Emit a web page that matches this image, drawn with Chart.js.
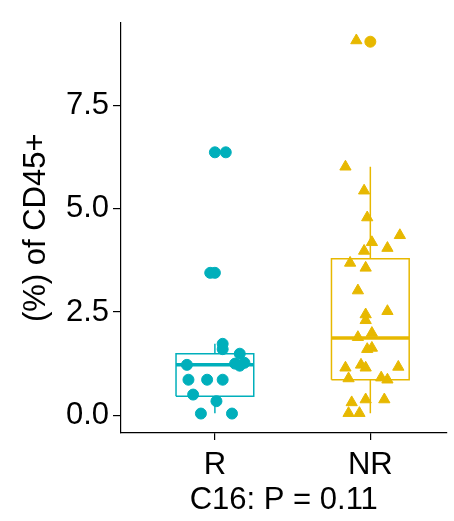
<!DOCTYPE html>
<html>
<head>
<meta charset="utf-8">
<script src="https://cdn.jsdelivr.net/npm/chart.js@4/dist/chart.umd.min.js"></script>
<style>
html,body{margin:0;padding:0;background:#fff;}
#wrap{width:454px;height:521px;}
</style>
</head>
<body>
<div id="wrap"><canvas id="c" width="454" height="521"></canvas></div>
<script>
// ---- data ----
const categories = ['R', 'NR'];
const yTicks = [0, 2.5, 5.0, 7.5];
const yAxisTitle = '(%) of CD45+';
const xAxisTitle = 'C16: P = 0.11';
// box statistics: [lower whisker, Q1, median, Q3, upper whisker]
const rBox = [0.05, 0.46, 1.22, 1.49, 1.73];
const nrBox = [0.05, 0.86, 1.87, 3.79, 6.02];
// boxplot outliers (drawn at the category centre)
const rOutliers = [6.37, 3.45];
const nrOutliers = [9.05];
// jittered observations: values and horizontal jitter (category units)
const rValues = [6.37, 3.45, 1.73, 1.60, 1.49, 1.22, 1.25, 1.27, 1.20, 0.86, 0.86, 0.86, 0.50, 0.34, 0.04, 0.04];
const rJitter = [0.07, -0.03, 0.05, 0.05, 0.16, -0.18, 0.13, 0.19, 0.16, -0.17, -0.05, 0.05, -0.14, 0.01, -0.09, 0.11];
const nrValues = [9.08, 6.02, 5.44, 4.79, 4.36, 4.19, 3.98, 4.05, 3.69, 3.57, 3.02, 2.44, 2.52, 2.30, 1.89, 1.99, 1.60, 1.63, 1.15, 1.22, 1.15, 1.17, 0.89, 0.91, 0.86, 0.31, 0.38, 0.38, 0.05, 0.05];
const nrJitter = [-0.09, -0.16, -0.04, -0.02, 0.19, 0.01, -0.04, 0.11, -0.13, -0.03, -0.08, -0.03, 0.11, -0.03, -0.08, 0.01, -0.02, 0.01, -0.16, -0.06, -0.03, 0.18, -0.14, 0.07, 0.11, -0.12, -0.03, 0.09, -0.14, -0.07];

// ---- styling ----
const colR = '#00AFBB';
const colNR = '#E7B800';
const FONT = '"Liberation Sans", Arial, sans-serif';
const FS = 31;
const halfW = 0.25;

function boxSets(pos, b, col) {
  const [lo, q1, med, q3, hi] = b;
  const line = (pts, w) => ({
    type: 'line', data: pts, borderColor: col, borderWidth: w,
    pointRadius: 0, fill: false, tension: 0, order: 5
  });
  return [
    line([{x: pos - halfW, y: q1}, {x: pos + halfW, y: q1}, {x: pos + halfW, y: q3}, {x: pos - halfW, y: q3}, {x: pos - halfW, y: q1}], 1.5),
    line([{x: pos - halfW, y: med}, {x: pos + halfW, y: med}], 3.5),
    line([{x: pos, y: q3}, {x: pos, y: hi}], 1.5),
    line([{x: pos, y: q1}, {x: pos, y: lo}], 1.5)
  ];
}

const datasets = [
  {
    type: 'scatter', data: rValues.map((v, i) => ({x: 1 + rJitter[i], y: v})),
    pointStyle: 'circle', pointRadius: 5.5, backgroundColor: colR, borderColor: colR, borderWidth: 1, order: 1
  },
  {
    type: 'scatter', data: nrValues.map((v, i) => ({x: 2 + nrJitter[i], y: v})),
    pointStyle: 'triangle', pointRadius: 6.5, backgroundColor: colNR, borderColor: colNR, borderWidth: 1, order: 1
  },
  {
    type: 'scatter', data: rOutliers.map(v => ({x: 1, y: v})),
    pointStyle: 'circle', pointRadius: 5.5, backgroundColor: colR, borderColor: colR, borderWidth: 1, order: 2
  },
  {
    type: 'scatter', data: nrOutliers.map(v => ({x: 2, y: v})),
    pointStyle: 'circle', pointRadius: 5.5, backgroundColor: colNR, borderColor: colNR, borderWidth: 1, order: 2
  },
  ...boxSets(1, rBox, colR),
  ...boxSets(2, nrBox, colNR)
];

new Chart(document.getElementById('c'), {
  type: 'scatter',
  data: {datasets},
  options: {
    responsive: false,
    animation: false,
    events: [],
    layout: {padding: {top: 18, right: 0, left: 0, bottom: 0}},
    plugins: {legend: {display: false}, tooltip: {enabled: false}},
    scales: {
      x: {
        type: 'linear', min: 0.396, max: 2.49,
        afterBuildTicks: s => { s.ticks = categories.map((c, i) => ({value: i + 1})); },
        afterFit: s => { s.height = 88; },
        ticks: {
          autoSkip: false, maxRotation: 0, padding: 7, color: '#000',
          font: {family: FONT, size: FS},
          callback: v => categories[Math.round(v) - 1]
        },
        grid: {drawOnChartArea: false, drawTicks: true, tickLength: 7, color: '#000', lineWidth: 1.2},
        border: {display: true, color: '#000', width: 1.2},
        title: {display: true, text: xAxisTitle, color: '#000', font: {family: FONT, size: FS, lineHeight: 1.2}, padding: {top: 0, bottom: 2}}
      },
      y: {
        type: 'linear', min: -0.431, max: 9.513,
        afterBuildTicks: s => { s.ticks = yTicks.map(v => ({value: v})); },
        afterFit: s => { s.width = 121; },
        ticks: {
          padding: 4, color: '#000',
          font: {family: FONT, size: FS},
          callback: v => Number(v).toFixed(1)
        },
        grid: {drawOnChartArea: false, drawTicks: true, tickLength: 8, color: '#000', lineWidth: 1.2},
        border: {display: true, color: '#000', width: 1.2},
        title: {display: true, text: yAxisTitle, color: '#000', font: {family: FONT, size: FS, lineHeight: 1.2}, padding: {top: 18, bottom: 0}}
      }
    }
  }
});
</script>
</body>
</html>
